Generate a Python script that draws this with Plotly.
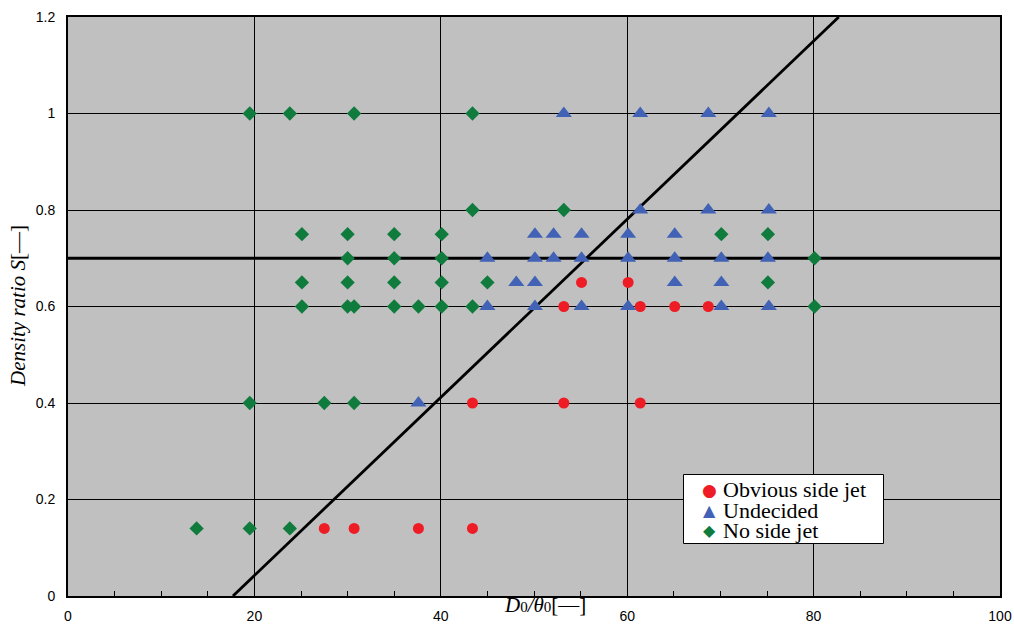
import plotly.graph_objects as go

# ---- data ----
obvious_x = [55.1, 60.1, 53.2, 61.4, 65.1, 68.7, 43.4, 53.2, 61.4, 27.5, 30.7, 37.6, 43.4]
obvious_y = [0.65, 0.65, 0.6, 0.6, 0.6, 0.6, 0.4, 0.4, 0.4, 0.14, 0.14, 0.14, 0.14]

undecided_x = [53.2, 61.4, 68.7, 75.2,
               61.4, 68.7, 75.2,
               50.1, 52.1, 55.1, 60.1, 65.1,
               45.0, 50.1, 52.1, 55.1, 60.1, 65.1, 70.1, 75.1,
               48.1, 50.1, 65.1, 70.1,
               45.0, 50.1, 55.1, 60.1, 70.1, 75.2,
               37.6]
undecided_y = [1.0, 1.0, 1.0, 1.0,
               0.8, 0.8, 0.8,
               0.75, 0.75, 0.75, 0.75, 0.75,
               0.7, 0.7, 0.7, 0.7, 0.7, 0.7, 0.7, 0.7,
               0.65, 0.65, 0.65, 0.65,
               0.6, 0.6, 0.6, 0.6, 0.6, 0.6,
               0.4]

noside_x = [19.5, 23.8, 30.7, 43.4,
            43.4, 53.2,
            25.1, 30.0, 35.0, 40.1, 70.1, 75.1,
            30.0, 35.0, 40.1, 80.1,
            25.1, 30.0, 35.0, 40.1, 45.0, 75.1,
            25.1, 30.0, 30.7, 35.0, 37.6, 40.1, 43.4, 80.1,
            19.5, 27.5, 30.7,
            13.8, 19.5, 23.8]
noside_y = [1.0, 1.0, 1.0, 1.0,
            0.8, 0.8,
            0.75, 0.75, 0.75, 0.75, 0.75, 0.75,
            0.7, 0.7, 0.7, 0.7,
            0.65, 0.65, 0.65, 0.65, 0.65, 0.65,
            0.6, 0.6, 0.6, 0.6, 0.6, 0.6, 0.6, 0.6,
            0.4, 0.4, 0.4,
            0.14, 0.14, 0.14]

# boundary lines
diag_x = [17.7, 82.7]
diag_y = [0.0, 1.2]
horiz_x = [0, 100]
horiz_y = [0.7, 0.7]

x_ticks = [0, 20, 40, 60, 80, 100]
y_ticks = [0, 0.2, 0.4, 0.6, 0.8, 1.0, 1.2]
y_tick_text = ["0", "0.2", "0.4", "0.6", "0.8", "1", "1.2"]

series_names = ["Obvious side jet", "Undecided", "No side jet"]
series_glyphs = ["●", "▲", "◆"]

RED = "#EE1C25"
BLUE = "#4263B5"
GREEN = "#0F7B3C"
series_colors = [RED, BLUE, GREEN]

# Figure fills the window (body margin removed below)
W, H = 1014, 626
L, R, T, B = 68, 14, 17, 30
PW, PH = W - L - R, H - T - B


def px_x(px):
    return (px - L) / PW


def px_y(py):
    return (H - B - py) / PH


fig = go.Figure()

fig.add_trace(go.Scatter(x=horiz_x, y=horiz_y, mode="lines",
                         line=dict(color="black", width=3), showlegend=False,
                         hoverinfo="skip"))
fig.add_trace(go.Scatter(x=diag_x, y=diag_y, mode="lines",
                         line=dict(color="black", width=2.8), showlegend=False,
                         hoverinfo="skip"))

fig.add_trace(go.Scatter(x=obvious_x, y=obvious_y, mode="markers", name=series_names[0],
                         marker=dict(symbol="circle", size=11, color=RED), showlegend=False))
fig.add_trace(go.Scatter(x=undecided_x, y=undecided_y, mode="markers", name=series_names[1],
                         marker=dict(symbol="triangle-up", size=14, color=BLUE), showlegend=False))
fig.add_trace(go.Scatter(x=noside_x, y=noside_y, mode="markers", name=series_names[2],
                         marker=dict(symbol="diamond", size=11, color=GREEN), showlegend=False))

serif = "Liberation Serif, Times New Roman, serif"

annotations = [
    dict(text="<i>D</i><span style='font-size:15px'>0</span><i>/θ</i><span style='font-size:15px'>0</span>[—]",
         xref="paper", yref="paper", x=px_x(502), y=px_y(605),
         xanchor="left", yanchor="middle", showarrow=False,
         font=dict(family=serif, size=21, color="black")),
    dict(text="<i>Density ratio S</i>[—]",
         xref="paper", yref="paper", x=px_x(18), y=px_y(306),
         xanchor="center", yanchor="middle", showarrow=False, textangle=-90,
         font=dict(family=serif, size=21, color="black")),
]

# manual legend (compact rows like the reference)
row_y = [490, 510, 530]
glyph_sizes = [17, 16, 16]
for name, glyph, col, ry, gs in zip(series_names, series_glyphs, series_colors, row_y, glyph_sizes):
    annotations.append(dict(text=glyph, xref="paper", yref="paper",
                            x=px_x(709), y=px_y(ry), xanchor="center", yanchor="middle",
                            showarrow=False,
                            font=dict(family="DejaVu Sans", size=gs, color=col)))
    annotations.append(dict(text=name, xref="paper", yref="paper",
                            x=px_x(721), y=px_y(ry), xanchor="left", yanchor="middle",
                            showarrow=False,
                            font=dict(family=serif, size=22, color="black")))

shapes = [
    dict(type="rect", xref="paper", yref="paper",
         x0=px_x(683.5), x1=px_x(883.5), y0=px_y(543.5), y1=px_y(474.5),
         fillcolor="white", line=dict(color="black", width=1), layer="above"),
]

fig.update_layout(
    width=W, height=H,
    margin=dict(l=L, r=R, t=T, b=B),
    paper_bgcolor="white",
    plot_bgcolor="#C0C0C0",
    font=dict(family="Liberation Sans, Arial, sans-serif", size=14, color="black"),
    showlegend=False,
    xaxis=dict(
        range=[0, 100], tickvals=x_ticks, ticktext=[str(v) for v in x_ticks],
        showgrid=True, gridcolor="black", gridwidth=1,
        showline=True, linecolor="black", linewidth=2, mirror=True,
        ticks="inside", ticklen=5, tickcolor="black",
        minor=dict(dtick=5, ticks="inside", ticklen=5, tickcolor="black", showgrid=False),
        zeroline=False, ticklabelstandoff=6, automargin=False,
        ticklabeloverflow="allow",
        tickfont=dict(size=14),
    ),
    yaxis=dict(
        range=[0, 1.2], tickvals=y_ticks, ticktext=y_tick_text,
        showgrid=True, gridcolor="black", gridwidth=1,
        showline=True, linecolor="black", linewidth=2, mirror=True,
        ticks="inside", ticklen=5, tickcolor="black",
        zeroline=False, ticklabelstandoff=8, automargin=False,
        ticklabeloverflow="allow",
        tickfont=dict(size=14),
    ),
    annotations=annotations,
    shapes=shapes,
)

fig.write_html("out.html",
               config={"displayModeBar": False},
               post_script="document.body.style.margin='0';document.body.style.overflow='hidden';")
